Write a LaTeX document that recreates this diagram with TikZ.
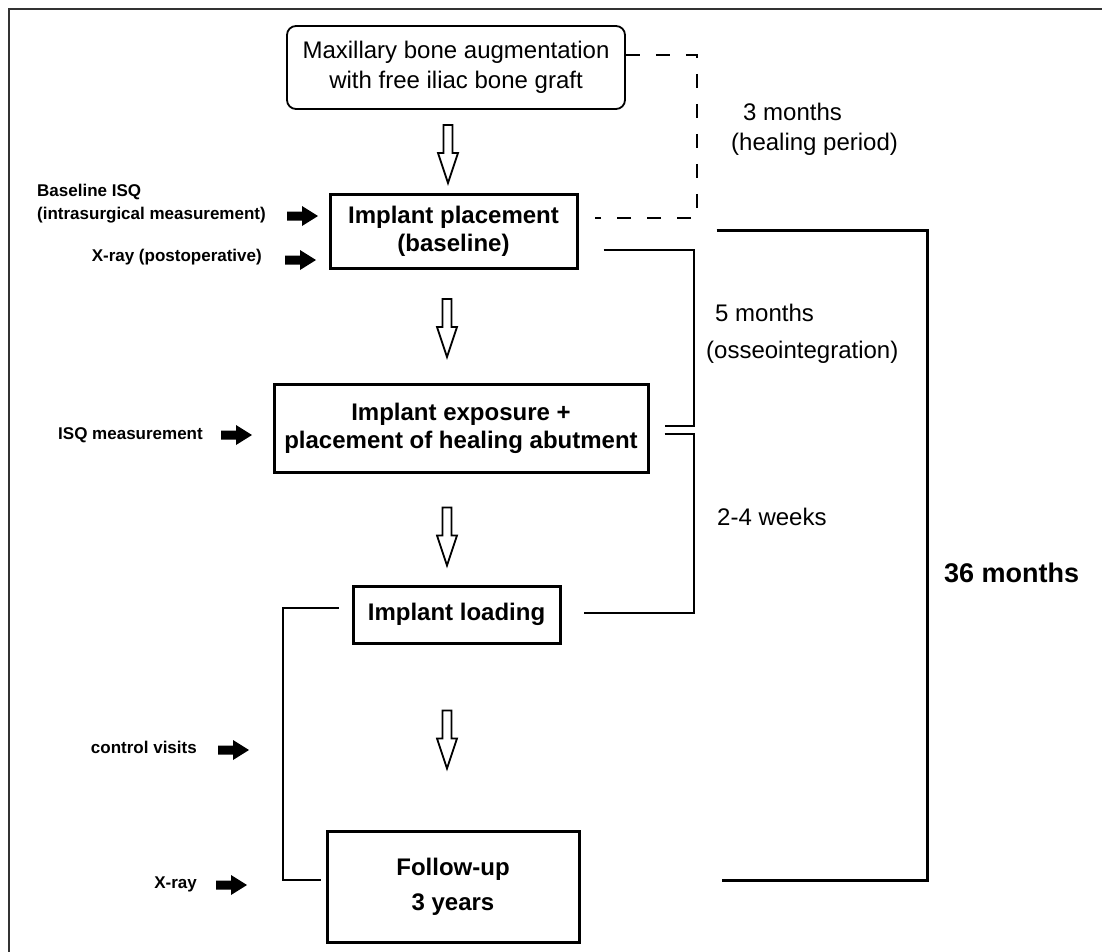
\documentclass[tikz,border=0pt]{standalone}
\usepackage{fontspec}
\setmainfont{Liberation Sans}
\begin{document}
\begin{tikzpicture}[x=1pt,y=-1pt,
  box/.style={draw, line width=3pt, align=center, inner sep=2pt,
    font=\bfseries\fontsize{24}{28}\selectfont},
  rbox/.style={draw, line width=1.8pt, rounded corners=9pt, align=center, inner sep=2pt,
    font=\fontsize{24}{30}\selectfont},
  leftlbl/.style={inner sep=0pt, font=\bfseries\fontsize{17}{23}\selectfont},
  rightlbl/.style={inner sep=0pt, anchor=west, font=\fontsize{24}{28}\selectfont},
  conn/.style={line width=2pt},
  bigconn/.style={line width=3pt},
  dashconn/.style={line width=2pt, dash pattern=on 14pt off 16pt},
  hollowarrow/.pic={\draw[line width=1.8pt, fill=white] (-4.5,-29) -- (4.5,-29) -- (4.5,-1) -- (10,-1) -- (0,29) -- (-10,-1) -- (-4.5,-1) -- cycle;},
  blackarrow/.pic={\fill (0,-4.5) -- (15,-4.5) -- (15,-10) -- (31,0) -- (15,10) -- (15,4.5) -- (0,4.5) -- cycle;}
]
\useasboundingbox (0,0) rectangle (1102,951);
% frame
\draw[line width=2pt, black!80] (9,960) -- (9,9) -- (1110,9);

% boxes
\node[rbox, minimum width=338pt, minimum height=83pt] (aug) at (456,67.5)
  {Maxillary bone augmentation\\with free iliac bone graft};
\node[box, minimum width=247pt, minimum height=74pt] (place) at (453.5,231)
  {Implant placement\\(baseline)};
\node[box, minimum width=374pt, minimum height=88pt] (expo) at (461,428)
  {Implant exposure +\\placement of healing abutment};
\node[box, minimum width=207pt, minimum height=57pt] (load) at (456.5,614.5)
  {Implant loading};
\node[box, minimum width=252pt, minimum height=111pt, font=\bfseries\fontsize{24}{35}\selectfont] (follow) at (453,886.5)
  {Follow-up\\3 years};

% hollow arrows
\pic at (448,154) {hollowarrow};
\pic at (447,328) {hollowarrow};
\pic at (447,536.5) {hollowarrow};
\pic at (447,739.5) {hollowarrow};

% left labels
\node[leftlbl, align=left, anchor=east] (lbase) at (266,203.5) {Baseline ISQ\\(intrasurgical measurement)};
\node[leftlbl, anchor=east] (lxray1) at (262,257) {X-ray (postoperative)};
\node[leftlbl, anchor=east] (lisq) at (203,435) {ISQ measurement};
\node[leftlbl, anchor=east] (lctrl) at (197,747) {control visits};
\node[leftlbl, anchor=east] (lxray2) at (197,884) {X-ray};

% black arrows
\pic at (287,216) {blackarrow};
\pic at (285,260) {blackarrow};
\pic at (221,435) {blackarrow};
\pic at (218,750) {blackarrow};
\pic at (216,885) {blackarrow};

% right labels
\node[rightlbl] (r3m) at (743,112) {3 months};
\node[rightlbl] (rheal) at (731,144) {(healing period)};
\node[rightlbl] (r5m) at (715,313) {5 months};
\node[rightlbl] (rosseo) at (706,352) {(osseointegration)};
\node[rightlbl] (r24) at (717,517) {2-4 weeks};
\node[rightlbl, font=\bfseries\fontsize{27}{32}\selectfont] (r36) at (944,573) {36 months};

% connectors
\coordinate (dcorner) at (697,218);
\draw[dashconn] ([yshift=12.5pt]aug.east) -| (dcorner) -- ([xshift=16pt,yshift=13pt]place.east);

\coordinate (c5) at (694,250);
\draw[conn] ([xshift=25pt,yshift=-19pt]place.east) -- (c5) |- ([xshift=15pt,yshift=2pt]expo.east);

\coordinate (c24) at (694,434);
\draw[conn] ([xshift=15pt,yshift=-6pt]expo.east) -- (c24) |- ([xshift=22pt,yshift=1.5pt]load.east);

\coordinate (cl) at (283,608);
\draw[conn] ([xshift=-13pt,yshift=6.5pt]load.west) -- (cl) |- ([xshift=-5pt,yshift=6.5pt]follow.west);

\coordinate (c36) at (927,230);
\draw[bigconn] ([xshift=138pt,yshift=1pt]place.east) -- (c36) |- ([xshift=141pt,yshift=6.5pt]follow.east);
\end{tikzpicture}
\end{document}
